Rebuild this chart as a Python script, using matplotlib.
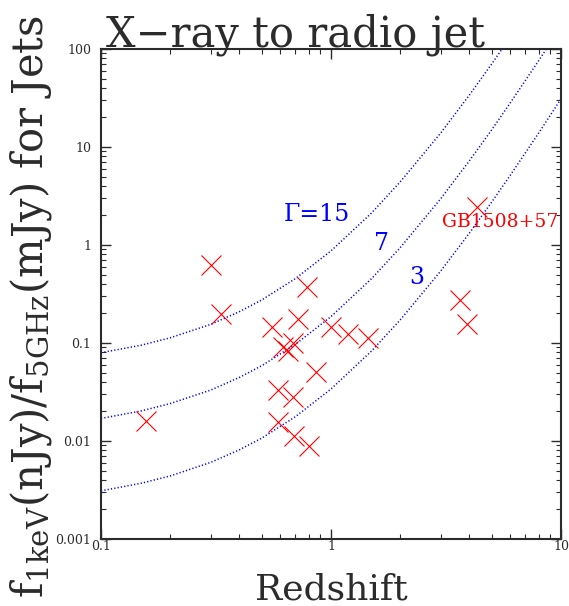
import numpy as np
import matplotlib
matplotlib.use('Agg')
from matplotlib import pyplot as plt
from matplotlib.ticker import LogLocator, NullFormatter, FixedFormatter, FixedLocator

# jet sample: redshift and X-ray / radio flux ratio
z = [0.157, 0.30, 0.333, 0.553, 0.59, 0.59, 0.62, 0.65, 0.686, 0.686,
     0.692, 0.72, 0.787, 0.805, 0.858, 1.0, 1.19, 1.45, 3.64, 3.89, 4.30]
ratio = [0.0161, 0.625, 0.196, 0.147, 0.0331, 0.0157, 0.090, 0.0819, 0.101, 0.0283,
         0.0113, 0.174, 0.37, 0.00895, 0.0502, 0.147, 0.124, 0.112, 0.275, 0.155, 2.46]

# IC/CMB model tracks for three bulk Lorentz factors
zc = [0.1, 0.15, 0.2, 0.3, 0.4, 0.5, 0.7, 1.0, 1.5, 2.0, 3.0, 4.0, 5.0, 6.0, 8.0, 10.0]
g15 = [0.0796, 0.0951, 0.113, 0.155, 0.209, 0.275, 0.454, 0.87, 2.12, 4.41,
       13.9, 34.0, 70.5, 131, 357, 797]
g7 = [0.0170, 0.0203, 0.0241, 0.0331, 0.0446, 0.0587, 0.0969, 0.186, 0.453, 0.94,
      2.97, 7.25, 15.0, 27.9, 76.1, 170]
g3 = [0.0031, 0.00371, 0.0044, 0.00605, 0.00814, 0.0107, 0.0177, 0.0339, 0.0828, 0.172,
      0.543, 1.325, 2.75, 5.09, 13.9, 31.0]

xticks = [0.1, 1, 10]
xticklabels = ['0.1', '1', '10']
yticks = [0.001, 0.01, 0.1, 1, 10, 100]
yticklabels = ['0.001', '0.01', '0.1', '1', '10', '100']

plt.rcParams['font.family'] = ['DejaVu Serif']
plt.rcParams['mathtext.fontset'] = 'dejavuserif'

ink = '#2b2b2b'
W, H = 569, 606

fig = plt.figure(figsize=(W/100, H/100), dpi=100)
ax = fig.add_axes([101/W, 1 - 539/H, 460/W, 490/H])
ax.set_xscale('log')
ax.set_yscale('log')
ax.set_xlim(0.1, 10)
ax.set_ylim(0.001, 100)

dots = (0, (0.8, 1.4))
for g in (g15, g7, g3):
  ax.plot(zc, g, color='blue', lw=1.1, linestyle=dots)

ax.plot(z, ratio, 'x', color='red', ms=14.5, mew=0.8)

ax.text(0.865, 2.07, 'Γ=15', color='blue', fontsize=17, ha='center', va='center')
ax.text(1.66, 1.04, '7', color='blue', fontsize=17, ha='center', va='center')
ax.text(2.36, 0.466, '3', color='blue', fontsize=17, ha='center', va='center')
ax.text(5.43, 1.73, 'GB1508+57', color='red', fontsize=13.5, ha='center', va='center')

for s in ax.spines.values():
  s.set_linewidth(1.5)
  s.set_color(ink)

ax.xaxis.set_major_locator(FixedLocator(xticks))
ax.xaxis.set_major_formatter(FixedFormatter(xticklabels))
ax.yaxis.set_major_locator(FixedLocator(yticks))
ax.yaxis.set_major_formatter(FixedFormatter(yticklabels))
ax.xaxis.set_minor_locator(LogLocator(base=10, subs=np.arange(2, 10)))
ax.yaxis.set_minor_locator(LogLocator(base=10, subs=np.arange(2, 10)))
ax.xaxis.set_minor_formatter(NullFormatter())
ax.yaxis.set_minor_formatter(NullFormatter())
ax.tick_params(which='both', direction='in', top=True, right=True, colors=ink)
ax.tick_params(which='major', length=7, width=1.0, labelsize=9)
ax.tick_params(which='minor', length=3.5, width=0.8)
ax.tick_params(axis='y', which='major', pad=7)
ax.tick_params(axis='x', which='major', pad=0.5)

fig.text(331/W, 1 - 600/H, 'Redshift', fontsize=26, color=ink,
         ha='center', va='baseline')
fig.text(31/W, 1 - 307/H, r'f$_{\rm 1keV}$(nJy)/f$_{\rm 5GHz}$(mJy) for Jets',
         rotation=90, fontsize=30, color=ink, ha='center', va='center')
fig.text(296/W, 1 - 47/H, 'X−ray to radio jet', fontsize=30, color=ink,
         ha='center', va='baseline')

fig.savefig('out.png', dpi=100)
